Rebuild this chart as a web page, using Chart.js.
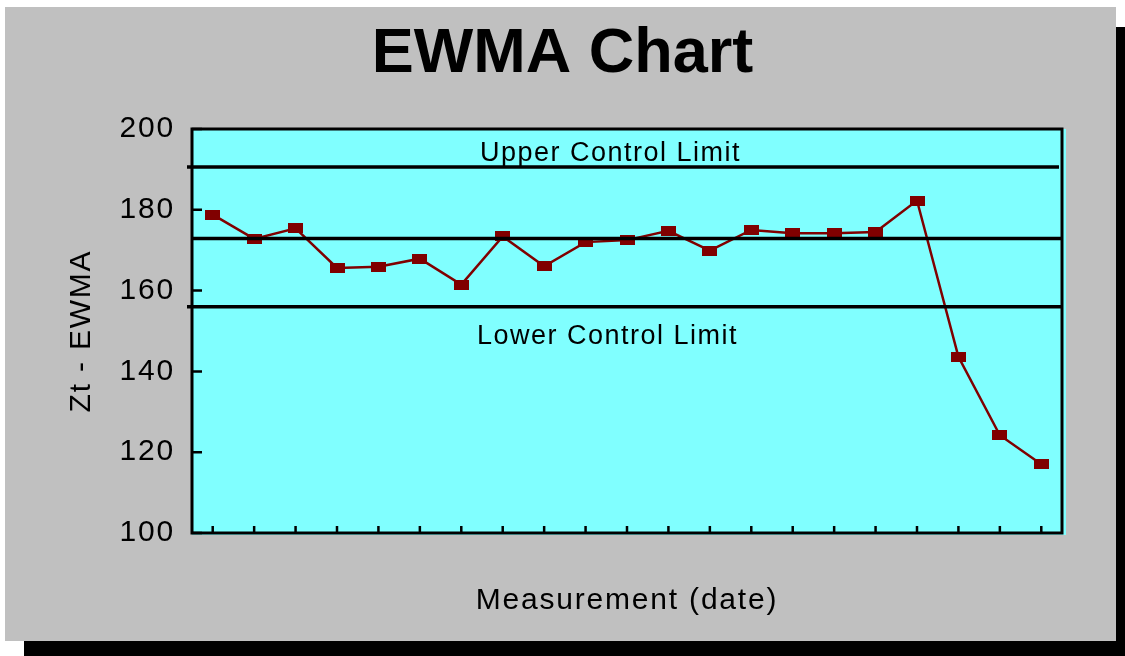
<!DOCTYPE html>
<html>
<head>
<meta charset="utf-8">
<title>EWMA Chart</title>
<script src="https://cdn.jsdelivr.net/npm/chart.js@4/dist/chart.umd.min.js"></script>
<style>
  html, body { margin: 0; padding: 0; background: #ffffff; }
  canvas { display: block; }
</style>
</head>
<body>
<canvas id="ewma" width="1125" height="656"></canvas>
<script>
// Measurement sequence and the EWMA statistic Zt for each one
const measurementLabels = ['1', '2', '3', '4', '5', '6', '7', '8', '9', '10', '11',
                           '12', '13', '14', '15', '16', '17', '18', '19', '20', '21'];
const ewmaValues = [178.8, 172.8, 175.4, 165.6, 165.9, 167.9, 161.5, 173.4, 166.0, 172.0, 172.5,
                    174.8, 169.9, 175.0, 174.2, 174.2, 174.5, 182.3, 143.6, 124.2, 117.0];
const yTickValues = [100, 120, 140, 160, 180, 200];

// Control limits
const upperControlLimit = 190.6;
const centerLine = 172.9;
const lowerControlLimit = 156.0;

const FONT = '"Liberation Sans", Arial, Helvetica, sans-serif';
const SERIES_COLOR = '#800000';

// Rectangular marker used for every point
const marker = document.createElement('canvas');
marker.width = 15;
marker.height = 10;
(function () {
  const m = marker.getContext('2d');
  m.fillStyle = SERIES_COLOR;
  m.fillRect(0, 0, 15, 10);
})();

const panelPlugin = {
  id: 'panel',
  beforeDraw(chart) {
    const { ctx, chartArea: a, width, height } = chart;
    ctx.save();
    // drop shadow and grey panel
    ctx.fillStyle = '#000000';
    ctx.fillRect(24, 27, width - 24, height - 27);
    ctx.fillStyle = '#C0C0C0';
    ctx.fillRect(5, 7, 1111, 634);
    // plot background
    ctx.fillStyle = '#80FFFF';
    ctx.fillRect(a.left, a.top, a.right - a.left + 4, a.bottom - a.top + 2);
    // chart title
    ctx.letterSpacing = '0px';
    ctx.fillStyle = '#000000';
    ctx.font = 'bold 63px ' + FONT;
    ctx.textAlign = 'center';
    ctx.textBaseline = 'alphabetic';
    ctx.fillText('EWMA Chart', width / 2, 72);
    ctx.restore();
    ctx.letterSpacing = '1.8px';
  },
  afterDatasetsDraw(chart) {
    const { ctx, chartArea: a, scales: { y } } = chart;
    ctx.save();
    ctx.strokeStyle = '#000000';
    ctx.lineWidth = 3.5;
    const hline = (v, x0, x1) => {
      const py = y.getPixelForValue(v);
      ctx.beginPath();
      ctx.moveTo(x0, py);
      ctx.lineTo(x1, py);
      ctx.stroke();
    };
    hline(upperControlLimit, a.left - 5, a.right - 3);
    hline(centerLine, a.left, a.right);
    hline(lowerControlLimit, a.left - 5, a.right);

    ctx.fillStyle = '#000000';
    ctx.font = '27px ' + FONT;
    ctx.letterSpacing = '1.5px';
    ctx.textAlign = 'left';
    ctx.textBaseline = 'alphabetic';
    ctx.fillText('Upper Control Limit', a.left + 288, y.getPixelForValue(upperControlLimit) - 6);
    ctx.fillText('Lower Control Limit', a.left + 285, y.getPixelForValue(lowerControlLimit) + 37);
    ctx.restore();
  },
  afterDraw(chart) {
    const { ctx, chartArea: a, scales: { x, y } } = chart;
    ctx.save();
    ctx.strokeStyle = '#000000';
    ctx.lineWidth = 2.5;
    // inward tick marks
    ctx.beginPath();
    measurementLabels.forEach((_, i) => {
      const px = x.getPixelForValue(i);
      ctx.moveTo(px, a.bottom);
      ctx.lineTo(px, a.bottom - 7);
    });
    yTickValues.forEach(v => {
      const py = y.getPixelForValue(v);
      ctx.moveTo(a.left, py);
      ctx.lineTo(a.left + 10, py);
    });
    ctx.stroke();
    // plot frame
    ctx.lineWidth = 3;
    ctx.strokeRect(a.left, a.top, a.right - a.left, a.bottom - a.top);
    ctx.restore();
  }
};

new Chart(document.getElementById('ewma'), {
  type: 'line',
  data: {
    labels: measurementLabels,
    datasets: [{
      label: 'Zt',
      data: ewmaValues,
      borderColor: SERIES_COLOR,
      borderWidth: 2.5,
      tension: 0,
      pointStyle: marker,
      pointRadius: 6,
      pointHoverRadius: 6,
      fill: false
    }]
  },
  options: {
    responsive: false,
    animation: false,
    devicePixelRatio: 1,
    events: [],
    layout: { padding: { left: 0, right: 63, top: 129, bottom: 0 } },
    plugins: {
      legend: { display: false },
      title: { display: false },
      tooltip: { enabled: false }
    },
    scales: {
      x: {
        type: 'category',
        offset: true,
        grid: { display: false },
        border: { display: false },
        ticks: { display: false },
        title: {
          display: true,
          text: 'Measurement (date)',
          color: '#000000',
          font: { family: FONT, size: 30, lineHeight: 1.2 },
          padding: { top: 0, bottom: 37 }
        },
        afterFit(scale) { scale.height = 123; }
      },
      y: {
        min: 100,
        max: 200,
        grid: { display: false },
        border: { display: false },
        afterBuildTicks(scale) { scale.ticks = yTickValues.map(v => ({ value: v })); },
        ticks: {
          color: '#000000',
          padding: 9,
          font: { family: FONT, size: 30 }
        },
        title: {
          display: true,
          text: 'Zt - EWMA',
          color: '#000000',
          font: { family: FONT, size: 30, lineHeight: 1.2 },
          padding: { top: 64, bottom: 0 }
        },
        afterFit(scale) { scale.width = 192; }
      }
    }
  },
  plugins: [panelPlugin]
});
</script>
</body>
</html>
